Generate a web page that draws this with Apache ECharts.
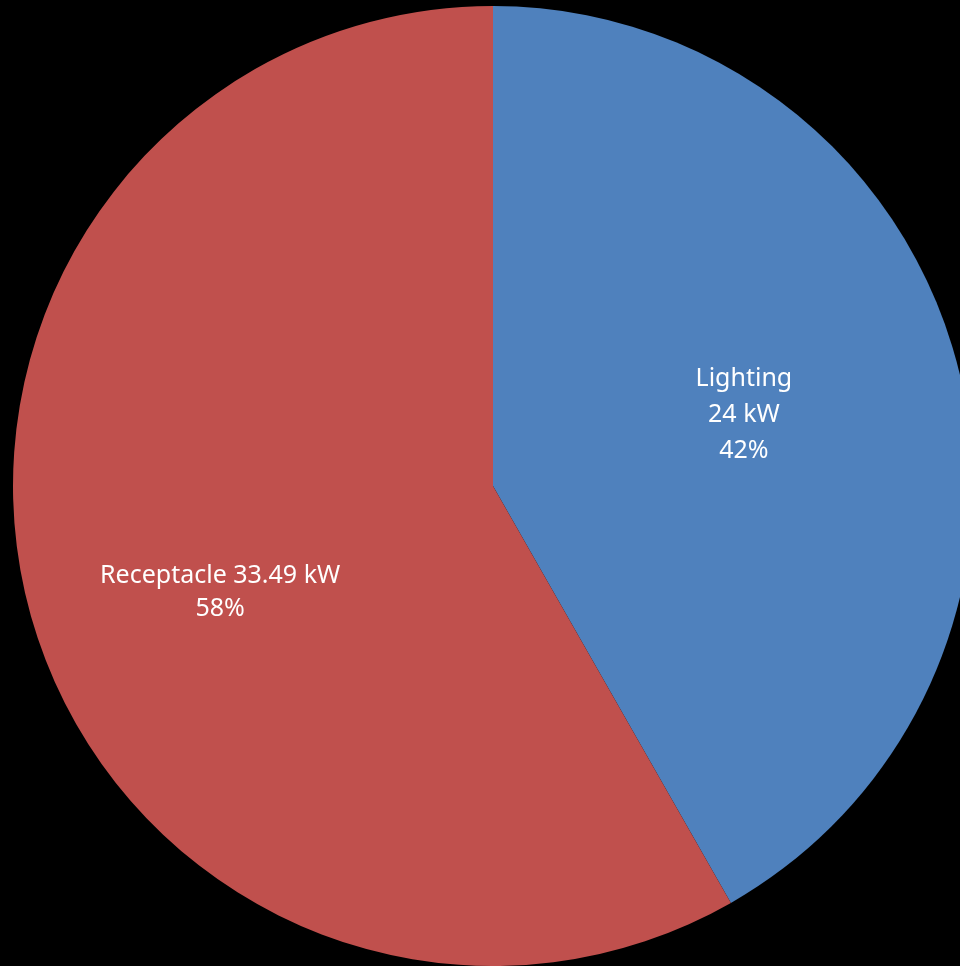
<!DOCTYPE html>
<html>
<head>
<meta charset="utf-8">
<style>
  html, body { margin: 0; padding: 0; background: #000; }
  #chart { width: 960px; height: 966px; }
</style>
<script src="https://cdn.jsdelivr.net/npm/echarts@6/dist/echarts.min.js"></script>
</head>
<body>
<div id="chart"></div>
<script>
// Load breakdown (kW)
const categories = ['Lighting', 'Receptacle'];
const loadKW = [24, 33.49];
const sliceColors = ['#4F81BD', '#C0504D'];

const labelLayouts = [
  { formatter: '{b}\n{c} kW\n{d}%', offset: [16, -9], lineHeight: 36 },
  { formatter: '{b} {c} kW\n{d}%', offset: [-38, 44], lineHeight: 33 }
];

const chart = echarts.init(document.getElementById('chart'));
chart.setOption({
  backgroundColor: '#000000',
  animation: false,
  series: [{
    type: 'pie',
    center: [493, 486],
    radius: 480,
    startAngle: 90,
    clockwise: true,
    percentPrecision: 0,
    label: {
      show: true,
      position: 'inside',
      color: '#ffffff',
      fontFamily: 'Noto Sans',
      fontSize: 25
    },
    labelLine: { show: false },
    itemStyle: { borderWidth: 0 },
    emphasis: { disabled: true },
    data: categories.map((name, i) => ({
      name,
      value: loadKW[i],
      itemStyle: { color: sliceColors[i] },
      label: labelLayouts[i]
    }))
  }]
});
</script>
</body>
</html>
